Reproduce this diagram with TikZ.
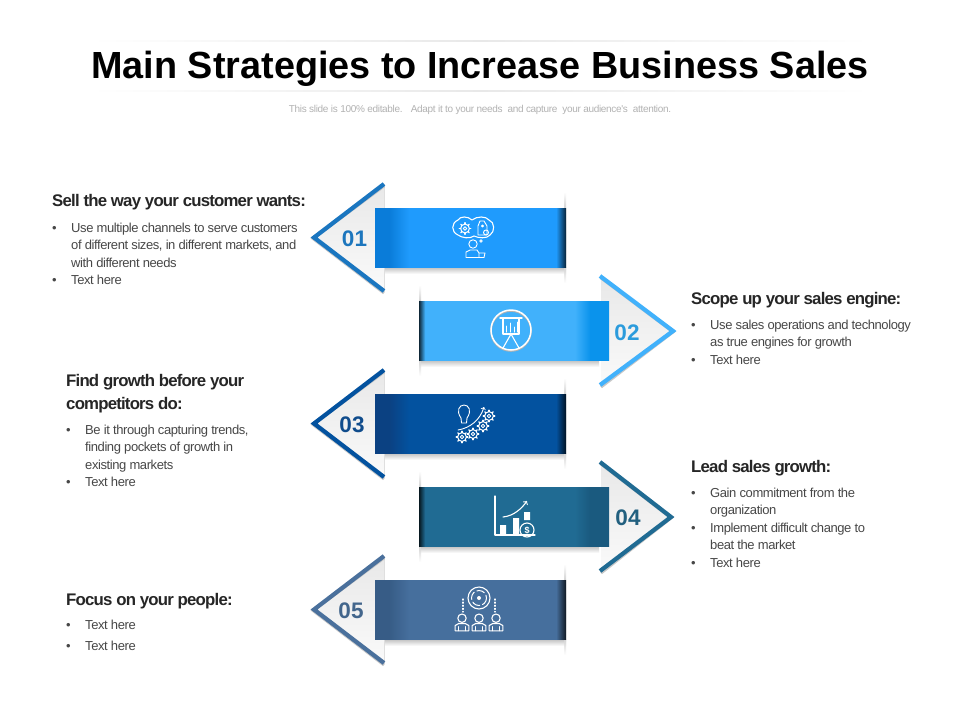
\documentclass[tikz,border=0pt]{standalone}
\usepackage{fontspec}
\setmainfont{Liberation Sans}
\newfontfamily\tightfont[LetterSpace=-3.2]{Liberation Sans}
\newfontfamily\headfont[LetterSpace=-4.8]{Liberation Sans}
\usetikzlibrary{positioning}

\definecolor{inkgray}{HTML}{262626}
\definecolor{sellblue}{HTML}{1F9BFD}
\definecolor{selldark}{HTML}{0A7CD9}
\definecolor{sellline}{HTML}{1A76C0}
\definecolor{selltext}{HTML}{1D76BD}
\definecolor{scopeblue}{HTML}{41B1FB}
\definecolor{scopedark}{HTML}{0A93EC}
\definecolor{scopetext}{HTML}{2B9BDC}
\definecolor{findblue}{HTML}{03529F}
\definecolor{finddark}{HTML}{0B4182}
\definecolor{findline}{HTML}{03529F}
\definecolor{findtext}{HTML}{104C8C}
\definecolor{leadblue}{HTML}{206B93}
\definecolor{leaddark}{HTML}{1A5A7F}
\definecolor{leadline}{HTML}{1F5F85}
\definecolor{leadtext}{HTML}{22607F}
\definecolor{focusblue}{HTML}{466F9D}
\definecolor{focusdark}{HTML}{375C86}
\definecolor{focusline}{HTML}{4A709C}
\definecolor{focustext}{HTML}{43668C}

\tikzset{
	x=1pt, y=-1pt,
	headline/.style = {anchor=west, inner sep=0pt, align=left, text=inkgray, font=\fontsize{16.8}{23}\selectfont\headfont\bfseries},
	bodytext/.style = {anchor=north west, inner sep=0pt, align=left, text=inkgray!85, font=\fontsize{13}{17.6}\selectfont\tightfont},
	numlabel/.style = {inner sep=0pt, font=\fontsize{22.5}{24}\selectfont\bfseries},
	iconline/.style = {draw=white, line width=1.1pt, line join=round, line cap=round},
	gearicon/.pic = {
		\draw[iconline, line width=1pt] (0,0) circle (4.4);
		\draw[iconline, line width=.8pt] (0,0) circle (1.8);
		\foreach \a in {0,45,...,315} \draw[iconline, line width=1.3pt] (\a:4.4) -- (\a:5.8);
	},
	personicon/.pic = {
		\draw[iconline] (0,-6) circle (4);
		\draw[iconline] (-6.5,6) -- (-6.5,1) -- (-3,-1) -- (3,-1) -- (6.5,1) -- (6.5,6) -- cycle;
		\draw[iconline, line width=.8pt] (-3,6) -- (-3,2) (3,6) -- (3,2);
	}
}

\newcommand{\itemline}[1]{\makebox[19pt][l]{\textbullet}#1}
\newcommand{\restline}[1]{\hspace*{19pt}#1}

\newcommand{\ribbonleft}[4]{
	\pgfdeclarehorizontalshading{band#2}{100bp}{color(0bp)=(#3); color(28.7bp)=(#3); color(33.9bp)=(#2); color(72.4bp)=(#2); color(75bp)=(black!78!#2); color(100bp)=(black!78!#2)}
	\begin{scope}[shift={(0,#1)}]
		\fill[top color=black!9, bottom color=black!2] (384,-24) -- (312,29.5) -- (384,83) -- cycle;
		\draw[black!22, line width=3pt] (384,-22) -- (313,30.5) -- (384,85);
		\draw[#4, line width=4.2pt, line join=miter] (384,-24) -- (314,29.5) -- (384,83);
		\fill[top color=black!25, bottom color=white] (385,59) rectangle (566,66);
		\fill[top color=white, bottom color=white, middle color=black!50] (564,-16) rectangle (566,75);
		\shade[shading=band#2] (375,0) rectangle (566,59);
	\end{scope}
}

\newcommand{\ribbonright}[4]{
	\pgfdeclarehorizontalshading{band#2}{100bp}{color(0bp)=(black!78!#2); color(25bp)=(black!78!#2); color(26.6bp)=(#2); color(66bp)=(#2); color(70bp)=(#3); color(100bp)=(#3)}
	\begin{scope}[shift={(0,#1)}]
		\fill[top color=black!9, bottom color=black!2] (601,-25) -- (#4,30) -- (601,84) -- cycle;
		\draw[black!22, line width=3pt] (601,-23) -- (#4-2,31) -- (601,86);
		\draw[#2, line width=4.2pt, line join=miter] (600,-25) -- (#4-2,30) -- (600,84);
		\fill[top color=black!25, bottom color=white] (419,59) rectangle (599,66);
		\fill[top color=white, bottom color=white, middle color=black!50] (419,-16) rectangle (421,75);
		\shade[shading=band#2] (419,0) rectangle (609,59);
	\end{scope}
}

\begin{document}
\begin{tikzpicture}
	\useasboundingbox (0,0) rectangle (960,720);
	\fill[white] (0,0) rectangle (960,720);

	\fill[left color=white, right color=white, middle color=black!9] (90,40.5) rectangle (870,41.5);
	\fill[left color=white, right color=white, middle color=black!9] (90,90.5) rectangle (870,91.5);

	\node (title) at (480,69) [inner sep=0pt, font=\fontsize{37.8}{40}\selectfont\bfseries] {Main Strategies to Increase Business Sales};
	\node (subtitle) at (480,110) [inner sep=0pt, text=black!30, font=\fontsize{10}{12}\selectfont\tightfont] {This slide is 100\% editable. \ \ Adapt it to your needs \ and capture \ your audience's \ attention.};

	\ribbonleft{208}{sellblue}{selldark}{sellline}
	\ribbonright{301}{scopeblue}{scopedark}{675}
	\ribbonleft{394}{findblue}{finddark}{findline}
	\ribbonright{487}{leadblue}{leaddark}{673}
	\ribbonleft{580}{focusblue}{focusdark}{focusline}

	\node[numlabel, text=selltext] (num01) at (354.5,239) {01};
	\node[numlabel, text=scopetext] (num02) at (627,333) {02};
	\node[numlabel, text=findtext] (num03) at (352,425) {03};
	\node[numlabel, text=leadtext] (num04) at (628,518) {04};
	\node[numlabel, text=focustext] (num05) at (351,611) {05};

	\node[headline] (sellhead) at (52,202) {Sell the way your customer wants:};
	\node[bodytext] (sellbody) at (52,222.5) {\itemline{Use multiple channels to serve customers}\\ \restline{of different sizes, in different markets, and}\\ \restline{with different needs}\\ \itemline{Text here}};

	\node[headline] (scopehead) at (691,300) {Scope up your sales engine:};
	\node[bodytext] (scopebody) at (691,319.5) {\itemline{Use sales operations and technology}\\ \restline{as true engines for growth}\\ \itemline{Text here}};

	\node[headline] (findhead) at (66,393.5) {Find growth before your\\ competitors do:};
	\node[bodytext] (findbody) at (66,424.5) {\itemline{Be it through capturing trends,}\\ \restline{finding pockets of growth in}\\ \restline{existing markets}\\ \itemline{Text here}};

	\node[headline] (leadhead) at (691,468) {Lead sales growth:};
	\node[bodytext] (leadbody) at (691,487.5) {\itemline{Gain commitment from the}\\ \restline{organization}\\ \itemline{Implement difficult change to}\\ \restline{beat the market}\\ \itemline{Text here}};

	\node[headline] (focushead) at (66,601) {Focus on your people:};
	\node[bodytext] (focusbody) at (66,619.5) {\itemline{Text here}\\[3.4pt] \itemline{Text here}};

	\draw[iconline] (458,220) .. controls (460,216) and (468,216) .. (472,220) .. controls (477,216) and (486,216) .. (489,220) .. controls (495,222) and (495,232) .. (490,235) .. controls (487,239) and (478,238) .. (474,236) .. controls (470,239) and (462,238) .. (458,235) .. controls (451,232) and (451,223) .. (458,220) -- cycle;
	\pic at (465,228.5) {gearicon};
	\draw[iconline, line width=.9pt] (480,221) -- (484,221) -- (487,226) -- (487,235) -- (478,235) -- (478,226) -- cycle;
	\draw[iconline, line width=.9pt] (486,232.5) circle (2.5) (482.5,226) circle (1);
	\draw[iconline, line width=.9pt] (473,244) circle (4.2) (481,241) circle (1.2);
	\draw[iconline, line width=.9pt] (466,257.5) -- (466,252) -- (470,250) -- (477,250) -- (479,253) -- (479,257.5) -- cycle (479,253) -- (485,253) -- (484,257.5) -- (479,257.5);

	\draw[draw=black!30, line width=1.6pt] (511,331) circle (20);
	\draw[iconline, line width=1.5pt] (511,330) circle (20);
	\draw[iconline, line width=1.4pt] (500,318) -- (522,318);
	\draw[iconline] (503,318) -- (503,334) -- (519,334) -- (519,318);
	\draw[iconline] (511,334) -- (503,348) (511,334) -- (519,348);
	\draw[iconline, line width=1pt] (506,332) -- (506,326) (510,332) -- (510,323) (514,332) -- (514,327) (517,332) -- (517,322);

	\draw[iconline, line width=.9pt] (461,418) .. controls (456,411) and (459,405) .. (464,405) .. controls (469,405) and (472,411) .. (467,418) -- (466.5,423) -- (461.5,423) -- cycle;
	\draw[iconline, line width=.9pt, ->] (458,430) .. controls (470,428) and (480,420) .. (484,407);
	\pic at (462,437) {gearicon};
	\pic at (473,434) {gearicon};
	\pic at (483,426) {gearicon};
	\pic at (489,416) {gearicon};

	\draw[iconline] (495,496) -- (495,535) -- (535,535);
	\fill[white] (500,525) rectangle (506,535) (513,518) rectangle (519,535) (524,512) rectangle (530,520);
	\draw[iconline, ->] (503,517) .. controls (514,516) and (522,508) .. (527,501);
	\draw[iconline] (527,530) circle (7);
	\node[inner sep=0pt, text=white, font=\fontsize{9}{9}\selectfont\bfseries] (coin) at (527,530) {\$};

	\draw[iconline] (479,598) circle (11);
	\draw[iconline, line width=1pt, dash pattern=on 8pt off 3pt] (479,598) circle (7.5);
	\fill[white] (479,598) circle (2);
	\draw[iconline, dotted] (463,599) -- (463,612) (495,599) -- (495,612);
	\pic[scale=1.05] at (462,624.5) {personicon};
	\pic[scale=1.05] at (479,624.5) {personicon};
	\pic[scale=1.05] at (496,624.5) {personicon};
\end{tikzpicture}
\end{document}
